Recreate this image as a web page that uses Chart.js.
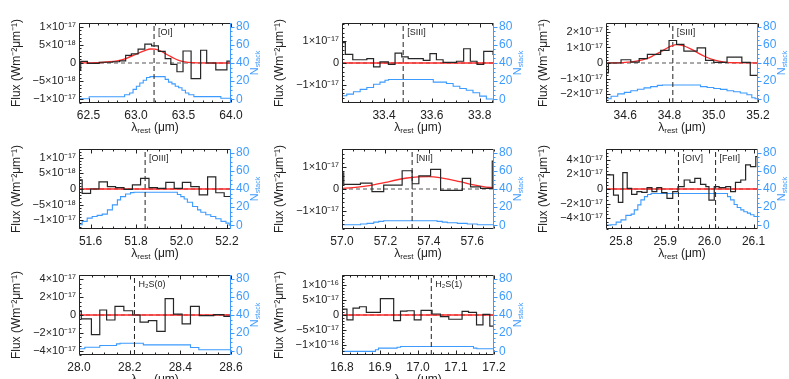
<!DOCTYPE html>
<html>
<head>
<meta charset="utf-8">
<script src="https://cdn.jsdelivr.net/npm/chart.js@4.4.0/dist/chart.umd.min.js"></script>
<style>
  html, body { margin: 0; padding: 0; background: #fff; }
  #fig { position: relative; width: 789px; height: 379px; overflow: hidden; background: #fff; }
  #fig canvas { position: absolute; }
</style>
</head>
<body>
<div id="fig"></div>
<script>
// ---- panel 1 : [OI] ----
const x1    = [62.400, 62.418, 62.489, 62.613, 62.756, 62.827, 62.891, 62.951, 63.022, 63.093, 63.164, 63.236, 63.307, 63.367, 63.431, 63.495, 63.580, 63.680, 63.744, 63.840, 63.957, 64.000];
const f1    = [-1.8e-18, 0.45e-18, -0.1e-18, 0.2e-18, 0.35e-18, 0.6e-18, 2.1e-18, 2.5e-18, 3.8e-18, 5.2e-18, 4.7e-18, 3.2e-18, 1.2e-18, -0.4e-18, -2.4e-18, 3.3e-18, -4.3e-18, 3.5e-18, 0, -1.9e-18, 0.5e-18, 0.5e-18];
const fitX1 = [62.4, 62.6, 62.7, 62.8, 62.9, 63.0, 63.05, 63.1, 63.15, 63.2, 63.25, 63.3, 63.35, 63.4, 63.45, 63.5, 63.6, 63.8, 64.0];
const fit1  = [0.05e-18, 0.1e-18, 0.3e-18, 0.6e-18, 1.3e-18, 2.4e-18, 3.0e-18, 3.5e-18, 3.85e-18, 3.8e-18, 3.4e-18, 2.7e-18, 2.0e-18, 1.3e-18, 0.75e-18, 0.4e-18, 0.1e-18, 0, 0];
const nx1   = [62.400, 62.507, 62.880, 62.933, 62.969, 63.004, 63.040, 63.076, 63.111, 63.147, 63.307, 63.342, 63.378, 63.413, 63.449, 63.484, 63.520, 63.556, 63.609, 63.893, 64.000];
const n1    = [0.7, 2.9, 5, 7, 11, 14.5, 18, 21, 24, 25, 22, 19, 17, 14.5, 12.7, 10, 7, 5, 3, 1.2, 1.2];

// ---- panel 2 : [SIII] 33.48 ----
const x2    = [33.224, 33.238, 33.269, 33.328, 33.356, 33.383, 33.418, 33.446, 33.474, 33.501, 33.564, 33.592, 33.619, 33.647, 33.703, 33.733, 33.761, 33.789, 33.817, 33.856, 33.860];
const f2    = [0.94e-17, 0.4e-17, 0.15e-17, 0.2e-17, -0.18e-17, 0.05e-17, -0.06e-17, 0.46e-17, 0.28e-17, 0.2e-17, 0.12e-17, 0.43e-17, 0.15e-17, 0.03e-17, 0.08e-17, 0.66e-17, 0.08e-17, -0.06e-17, 0.54e-17, 0.4e-17, 0.4e-17];
const fitX2 = [33.224, 33.860];
const fit2  = [0, 0];
const nx2   = [33.224, 33.244, 33.272, 33.300, 33.328, 33.356, 33.383, 33.404, 33.418, 33.606, 33.661, 33.689, 33.717, 33.744, 33.772, 33.800, 33.828, 33.860];
const n2    = [4, 5.8, 8.4, 11, 13, 16.7, 19, 21, 21.8, 19, 17.5, 14.5, 12, 10, 7.3, 3.6, 0.4, 0.4];

// ---- panel 3 : [SIII] 34.81 ----
const x3    = [34.513, 34.524, 34.581, 34.625, 34.663, 34.700, 34.760, 34.798, 34.832, 34.865, 34.925, 34.963, 35.000, 35.060, 35.127, 35.165, 35.200];
const f3    = [-0.64e-17, 0, 0.21e-17, 0.06e-17, 0.28e-17, 0.56e-17, 0.81e-17, 1.45e-17, 1.2e-17, 0.77e-17, 0.98e-17, 0.17e-17, 0.04e-17, 0.38e-17, 0.04e-17, -0.8e-17, -0.8e-17];
const fitX3 = [34.513, 34.6, 34.65, 34.7, 34.73, 34.76, 34.79, 34.81, 34.83, 34.85, 34.87, 34.9, 34.93, 34.96, 35.0, 35.05, 35.1, 35.2];
const fit3  = [0, 0.04e-17, 0.12e-17, 0.3e-17, 0.5e-17, 0.72e-17, 0.97e-17, 1.1e-17, 1.18e-17, 1.16e-17, 1.08e-17, 0.88e-17, 0.64e-17, 0.42e-17, 0.2e-17, 0.06e-17, 0.015e-17, 0];
const nx3   = [34.513, 34.536, 34.566, 34.596, 34.625, 34.655, 34.685, 34.715, 34.745, 34.768, 34.940, 34.970, 35.000, 35.030, 35.060, 35.090, 35.120, 35.150, 35.172, 35.187, 35.200];
const n3    = [0.7, 3.5, 6, 7.7, 9.5, 11.2, 12.6, 14, 15.4, 15.8, 14, 13, 12, 11, 9.5, 8.4, 7, 5, 1.8, 0.7, 0.7];

// ---- panel 4 : [OIII] ----
const x4    = [51.549, 51.563, 51.600, 51.637, 51.674, 51.710, 51.747, 51.784, 51.820, 51.857, 51.894, 51.931, 51.968, 52.004, 52.041, 52.078, 52.115, 52.151, 52.188, 52.218];
const f4    = [2.9e-18, -1.4e-18, 0, 2.3e-18, 0.74e-18, 0.43e-18, -0.1e-18, 1.3e-18, 3.4e-18, 0.43e-18, 0.2e-18, 2.1e-18, 0.2e-18, 2.1e-18, 0.74e-18, -1.9e-18, 3.9e-18, -1.2e-18, -2.4e-18, -2.4e-18];
const fitX4 = [51.549, 52.218];
const fit4  = [0, 0];
const nx4   = [51.549, 51.563, 51.585, 51.607, 51.629, 51.651, 51.674, 51.696, 51.718, 51.732, 51.754, 51.776, 51.791, 51.982, 51.997, 52.012, 52.026, 52.049, 52.071, 52.085, 52.107, 52.129, 52.151, 52.174, 52.196, 52.210, 52.218];
const n4    = [0.7, 4.4, 8, 9.8, 11, 12.4, 17, 22.5, 28, 31.6, 34.5, 36, 36.4, 34, 31.6, 29, 25.5, 20.7, 17, 14.5, 11.6, 9.8, 7.3, 4.4, 2.5, 0.3, 0.3];

// ---- panel 5 : [NII] ----
const x5    = [57.000, 57.008, 57.085, 57.138, 57.192, 57.277, 57.323, 57.354, 57.408, 57.454, 57.554, 57.592, 57.638, 57.692, 57.700];
const f5    = [0.74e-17, 0.21e-17, 0.27e-17, -0.12e-17, 0.18e-17, 0.83e-17, 0.24e-17, 0.6e-17, 0.89e-17, -0.06e-17, 0.48e-17, 0.1e-17, 0.03e-17, 1.27e-17, 1.27e-17];
const fitX5 = [57.0, 57.05, 57.1, 57.15, 57.2, 57.25, 57.3, 57.35, 57.4, 57.45, 57.5, 57.55, 57.6, 57.65, 57.7];
const fit5  = [0.03e-17, 0.06e-17, 0.12e-17, 0.2e-17, 0.3e-17, 0.41e-17, 0.5e-17, 0.55e-17, 0.56e-17, 0.52e-17, 0.43e-17, 0.32e-17, 0.2e-17, 0.11e-17, 0.05e-17];
const nx5   = [57.000, 57.085, 57.115, 57.146, 57.169, 57.192, 57.438, 57.462, 57.485, 57.531, 57.577, 57.623, 57.700];
const n5    = [0.7, 1.5, 2.2, 3.6, 4.4, 5, 4.4, 3.6, 2.9, 2.2, 1.5, 0.7, 0.7];

// ---- panel 6 : [OIV] / [FeII] ----
const x6    = [25.766, 25.783, 25.794, 25.804, 25.814, 25.824, 25.836, 25.847, 25.859, 25.870, 25.881, 25.892, 25.904, 25.917, 25.929, 25.943, 25.956, 25.967, 25.980, 25.992, 25.999, 26.011, 26.022, 26.037, 26.048, 26.059, 26.071, 26.082, 26.093, 26.105, 26.110];
const f6    = [1.93e-17, -0.83e-17, -1.84e-17, 2.25e-17, 0.09e-17, -0.74e-17, -0.37e-17, -0.46e-17, 0.18e-17, -0.37e-17, 0.18e-17, -0.51e-17, -1.29e-17, -0.37e-17, 0.32e-17, 1.24e-17, 0.92e-17, 1.47e-17, 0.64e-17, 0.32e-17, -1.52e-17, 0.32e-17, 0.18e-17, 0.32e-17, -0.37e-17, 0.92e-17, 1.24e-17, 3.31e-17, 3.08e-17, 4.46e-17, 4.46e-17];
const fitX6 = [25.766, 26.110];
const fit6  = [0, 0];
const nx6   = [25.766, 25.777, 25.789, 25.800, 25.811, 25.823, 25.830, 25.838, 25.845, 25.853, 25.860, 25.868, 26.041, 26.048, 26.056, 26.063, 26.071, 26.078, 26.086, 26.093, 26.101, 26.110];
const n6    = [0.3, 0.7, 3.6, 6, 11, 12.4, 17, 22.5, 28, 31.6, 34, 35, 31.6, 28, 23, 19.6, 17, 15, 13.5, 11.6, 9.8, 9.8];

// ---- panel 7 : H2S(0) ----
const x7    = [28.000, 28.009, 28.049, 28.082, 28.109, 28.142, 28.177, 28.212, 28.241, 28.274, 28.307, 28.340, 28.373, 28.407, 28.440, 28.475, 28.532, 28.572, 28.600];
const f7    = [0.48e-17, -0.44e-17, -2.2e-17, 0.56e-17, -0.56e-17, 0.96e-17, 0.48e-17, 0, -0.81e-17, -0.63e-17, -1.85e-17, 1.85e-17, 0.1e-17, -1.0e-17, 0.96e-17, -0.07e-17, 0.04e-17, -0.15e-17, -0.15e-17];
const fitX7 = [28.0, 28.6];
const fit7  = [0, 0];
const nx7   = [28.000, 28.023, 28.082, 28.148, 28.162, 28.254, 28.440, 28.473, 28.600];
const n7    = [2.9, 4.6, 6.4, 8.2, 8.9, 7.1, 4.3, 1.8, 1.8];

// ---- panel 8 : H2S(1) ----
const x8    = [16.800, 16.813, 16.829, 16.846, 16.864, 16.901, 16.936, 16.954, 16.971, 16.990, 17.008, 17.037, 17.059, 17.081, 17.116, 17.133, 17.154, 17.171, 17.189, 17.200];
const f8    = [2.0e-17, -1.67e-17, 2.33e-17, 2.78e-17, 0.89e-17, 5.56e-17, -1.89e-17, 1.33e-17, 1.44e-17, -1.67e-17, 1.56e-17, 0.33e-17, -0.56e-17, -1.44e-17, 1.22e-17, 0.89e-17, -3.33e-17, 0.22e-17, -3.78e-17, -3.78e-17];
const fitX8 = [16.8, 17.2];
const fit8  = [0, 0];
const nx8   = [16.800, 16.888, 16.896, 16.945, 16.954, 17.146, 17.155, 17.200];
const n8    = [0, 1.8, 3.6, 4.6, 5.4, 3.6, 2.9, 2.9];

// 軸の目盛り
const yTicksA  = [-1e-17, -5e-18, 0, 5e-18, 1e-17];
const yLabelsA = ["\u22121\u00d710\u207b\u00b9\u2077", "\u22125\u00d710\u207b\u00b9\u2078", "0", "5\u00d710\u207b\u00b9\u2078", "1\u00d710\u207b\u00b9\u2077"];
const yTicksB  = [-1e-17, 0, 1e-17];
const yLabelsB = ["\u22121\u00d710\u207b\u00b9\u2077", "0", "1\u00d710\u207b\u00b9\u2077"];
const yTicksC  = [-2e-17, -1e-17, 0, 1e-17, 2e-17];
const yLabelsC = ["\u22122\u00d710\u207b\u00b9\u2077", "\u22121\u00d710\u207b\u00b9\u2077", "0", "1\u00d710\u207b\u00b9\u2077", "2\u00d710\u207b\u00b9\u2077"];
const yTicksD  = [-4e-17, -2e-17, 0, 2e-17, 4e-17];
const yLabelsD = ["\u22124\u00d710\u207b\u00b9\u2077", "\u22122\u00d710\u207b\u00b9\u2077", "0", "2\u00d710\u207b\u00b9\u2077", "4\u00d710\u207b\u00b9\u2077"];
const yTicksE  = [-1e-16, -5e-17, 0, 5e-17, 1e-16];
const yLabelsE = ["\u22121\u00d710\u207b\u00b9\u2076", "\u22125\u00d710\u207b\u00b9\u2077", "0", "5\u00d710\u207b\u00b9\u2077", "1\u00d710\u207b\u00b9\u2076"];
const nTicks   = [0, 20, 40, 60, 80];

const FONT = "'Liberation Sans', Arial, Helvetica, sans-serif";
const INK  = "#222222";
const BLUE = "#3d9bff";
const RED  = "#ff2a2a";

const PANELS = [
  { row: 0, col: 0, xMin: 62.4,   xMax: 64.0,   xTicks: [62.5, 63.0, 63.5, 64.0], xMinor: 0.1,  yLim: 1.1e-17,  yTicks: yTicksA, yLabels: yLabelsA, yMinor: 1e-18,
    hx: x1, hy: f1, fx: fitX1, fy: fit1, nx: nx1, ny: n1, lines: [63.19], names: ["[OI]"] },
  { row: 0, col: 1, xMin: 33.224, xMax: 33.86,  xTicks: [33.4, 33.6, 33.8],       xMinor: 0.05, yLim: 1.85e-17, yTicks: yTicksB, yLabels: yLabelsB, yMinor: 2e-18,
    hx: x2, hy: f2, fx: fitX2, fy: fit2, nx: nx2, ny: n2, lines: [33.48], names: ["[SIII]"] },
  { row: 0, col: 2, xMin: 34.513, xMax: 35.2,   xTicks: [34.6, 34.8, 35.0, 35.2], xMinor: 0.05, yLim: 2.58e-17, yTicks: yTicksC, yLabels: yLabelsC, yMinor: 2e-18,
    hx: x3, hy: f3, fx: fitX3, fy: fit3, nx: nx3, ny: n3, lines: [34.815], names: ["[SIII]"] },
  { row: 1, col: 0, xMin: 51.549, xMax: 52.218, xTicks: [51.6, 51.8, 52.0, 52.2], xMinor: 0.05, yLim: 1.28e-17, yTicks: yTicksA, yLabels: yLabelsA, yMinor: 1e-18,
    hx: x4, hy: f4, fx: fitX4, fy: fit4, nx: nx4, ny: n4, lines: [51.84], names: ["[OIII]"] },
  { row: 1, col: 1, xMin: 57.0,   xMax: 57.7,   xTicks: [57.0, 57.2, 57.4, 57.6], xMinor: 0.05, yLim: 1.82e-17, yTicks: yTicksB, yLabels: yLabelsB, yMinor: 2e-18,
    hx: x5, hy: f5, fx: fitX5, fy: fit5, nx: nx5, ny: n5, lines: [57.323], names: ["[NII]"] },
  { row: 1, col: 2, xMin: 25.766, xMax: 26.11,  xTicks: [25.8, 25.9, 26.0, 26.1], xMinor: 0.02, yLim: 5.5e-17,  yTicks: yTicksD, yLabels: yLabelsD, yMinor: 5e-18,
    hx: x6, hy: f6, fx: fitX6, fy: fit6, nx: nx6, ny: n6, lines: [25.93, 26.014], names: ["[OIV]", "[FeII]"] },
  { row: 2, col: 0, xMin: 28.0,   xMax: 28.6,   xTicks: [28.0, 28.2, 28.4, 28.6], xMinor: 0.05, yLim: 4.5e-17,  yTicks: yTicksD, yLabels: yLabelsD, yMinor: 5e-18,
    hx: x7, hy: f7, fx: fitX7, fy: fit7, nx: nx7, ny: n7, lines: [28.219], names: ["H\u2082S(0)"] },
  { row: 2, col: 1, xMin: 16.8,   xMax: 17.2,   xTicks: [16.8, 16.9, 17.0, 17.1, 17.2], xMinor: 0.02, yLim: 1.35e-16, yTicks: yTicksE, yLabels: yLabelsE, yMinor: 1e-17,
    hx: x8, hy: f8, fx: fitX8, fy: fit8, nx: nx8, ny: n8, lines: [17.035], names: ["H\u2082S(1)"] },
];

const COL_LEFT = [0, 263, 527];
const ROW_TOP  = [0, 126, 252];
const CW = 263, CH = 140;

function steps(min, max, step) {
  const out = [];
  for (let k = Math.ceil(min / step - 1e-6); k * step <= max + step * 1e-6; k++) out.push(k * step);
  return out;
}
function isMajor(v, majors, step) {
  return majors.some(t => Math.abs(t - v) < step * 1e-3);
}
function drawParts(ctx, parts, cx, cy) {
  let w = 0;
  parts.forEach(q => { ctx.font = `${q.size}px ${FONT}`; q.w = ctx.measureText(q.t).width; w += q.w; });
  let x = cx - w / 2;
  ctx.textAlign = "left";
  ctx.textBaseline = "middle";
  parts.forEach(q => { ctx.font = `${q.size}px ${FONT}`; ctx.fillText(q.t, x, cy + q.dy); x += q.w; });
}

// IDL 風の枠・内向き目盛り・軸タイトル・輝線ラベル
const idlAxes = {
  id: "idlAxes",
  afterDraw(chart, args, opts) {
    const p = opts.panel;
    const { ctx, chartArea: a } = chart;
    const sx = chart.scales.x, sy = chart.scales.y, sn = chart.scales.y2;
    const L = a.left + 0.5, R = a.right - 0.5, T = a.top + 0.5, B = a.bottom - 0.5;
    const seg = (x0, y0, x1, y1) => { ctx.moveTo(x0, y0); ctx.lineTo(x1, y1); };
    ctx.save();
    ctx.lineWidth = 1;
    ctx.strokeStyle = INK;
    ctx.beginPath();
    seg(R, T, L, T); seg(L, T, L, B); seg(L, B, R, B);
    steps(p.xMin, p.xMax, p.xMinor).forEach(v => {
      const px = Math.round(sx.getPixelForValue(v)) + 0.5;
      const len = isMajor(v, p.xTicks, p.xMinor) ? 4 : 2;
      seg(px, B, px, B - len);
      seg(px, T, px, T + len);
    });
    steps(-p.yLim, p.yLim, p.yMinor).forEach(v => {
      const py = Math.round(sy.getPixelForValue(v)) + 0.5;
      const len = isMajor(v, p.yTicks, p.yMinor) ? 4 : 2;
      seg(L, py, L + len, py);
    });
    ctx.stroke();

    ctx.strokeStyle = BLUE;
    ctx.beginPath();
    seg(R, a.top, R, a.bottom);
    steps(0, 80, 5).forEach(v => {
      const py = Math.round(sn.getPixelForValue(v)) + 0.5;
      const len = v % 20 === 0 ? 4 : 2;
      seg(R, py, R + len, py);
    });
    ctx.stroke();

    const my = (a.top + a.bottom) / 2, mx = (a.left + a.right) / 2;
    // 左軸タイトル
    ctx.fillStyle = INK;
    ctx.save();
    ctx.translate(a.left - 62, my);
    ctx.rotate(-Math.PI / 2);
    drawParts(ctx, [{ t: "Flux (Wm\u207b\u00b2\u03bcm\u207b\u00b9)", size: 12, dy: 0 }], 0, 0);
    ctx.restore();
    // 右軸タイトル
    ctx.fillStyle = BLUE;
    ctx.save();
    ctx.translate(a.right + 24, my);
    ctx.rotate(-Math.PI / 2);
    drawParts(ctx, [{ t: "N", size: 11, dy: 0 }, { t: "stack", size: 7, dy: 3 }], 0, 0);
    ctx.restore();
    // x 軸タイトル
    ctx.fillStyle = INK;
    drawParts(ctx, [{ t: "\u03bb", size: 12, dy: 0 }, { t: "rest", size: 8, dy: 3 }, { t: " (\u03bcm)", size: 12, dy: 0 }], mx, a.bottom + 25);
    // 輝線ラベル
    ctx.font = `9px ${FONT}`;
    ctx.textAlign = "left";
    ctx.textBaseline = "top";
    p.lines.forEach((lx, i) => {
      ctx.fillText(p.names[i], sx.getPixelForValue(lx) + 4, a.top + 5);
    });
    ctx.restore();
  },
};

const fig = document.getElementById("fig");

PANELS.forEach(p => {
  const canvas = document.createElement("canvas");
  canvas.width = CW;
  canvas.height = CH;
  canvas.style.left = COL_LEFT[p.col] + "px";
  canvas.style.top = ROW_TOP[p.row] + "px";
  fig.appendChild(canvas);

  const pts = (xs, ys) => xs.map((v, i) => ({ x: v, y: ys[i] }));
  const datasets = [
    { data: pts(p.hx, p.hy), stepped: "before", borderColor: "#262626", borderWidth: 1.2, pointRadius: 0, yAxisID: "y", order: 1 },
    { data: pts(p.fx, p.fy), borderColor: RED, borderWidth: 1.3, pointRadius: 0, cubicInterpolationMode: "monotone", yAxisID: "y", order: 2 },
    { data: [{ x: p.xMin, y: 0 }, { x: p.xMax, y: 0 }], borderColor: "#555555", borderWidth: 1, borderDash: [4, 3], pointRadius: 0, yAxisID: "y", order: 3 },
    { data: pts(p.nx, p.ny), stepped: "before", borderColor: BLUE, borderWidth: 1.1, pointRadius: 0, yAxisID: "y2", order: 5 },
  ];
  p.lines.forEach(lx => {
    datasets.push({ data: [{ x: lx, y: -p.yLim }, { x: lx, y: p.yLim }], borderColor: INK, borderWidth: 1, borderDash: [5, 3], pointRadius: 0, yAxisID: "y", order: 4 });
  });

  new Chart(canvas, {
    type: "line",
    data: { datasets },
    options: {
      responsive: false,
      animation: false,
      devicePixelRatio: 1,
      events: [],
      layout: { padding: { top: 23, left: 0, right: 0, bottom: 0 }, autoPadding: false },
      plugins: { legend: { display: false }, tooltip: { enabled: false }, idlAxes: { panel: p } },
      scales: {
        x: {
          type: "linear",
          min: p.xMin,
          max: p.xMax,
          afterBuildTicks: s => { s.ticks = p.xTicks.map(v => ({ value: v })); },
          afterFit: s => { s.height = 37; },
          grid: { display: false, drawTicks: false },
          border: { display: false },
          ticks: { padding: 5, color: INK, font: { family: FONT, size: 12 }, maxRotation: 0, autoSkip: false,
                   callback: v => Number(v).toFixed(1) },
        },
        y: {
          type: "linear",
          position: "left",
          min: -p.yLim,
          max: p.yLim,
          afterBuildTicks: s => { s.ticks = p.yTicks.map(v => ({ value: v })); },
          afterFit: s => { s.width = 79; },
          grid: { display: false, drawTicks: false },
          border: { display: false },
          ticks: { padding: 3, color: INK, font: { family: FONT, size: 11 }, autoSkip: false,
                   callback: (v, i) => p.yLabels[i] },
        },
        y2: {
          type: "linear",
          position: "right",
          min: -4,
          max: 84,
          afterBuildTicks: s => { s.ticks = nTicks.map(v => ({ value: v })); },
          afterFit: s => { s.width = 32; },
          grid: { display: false, drawTicks: false },
          border: { display: false },
          ticks: { padding: 5, color: BLUE, font: { family: FONT, size: 12 }, autoSkip: false,
                   callback: v => String(v) },
        },
      },
    },
    plugins: [idlAxes],
  });
});
</script>
</body>
</html>
